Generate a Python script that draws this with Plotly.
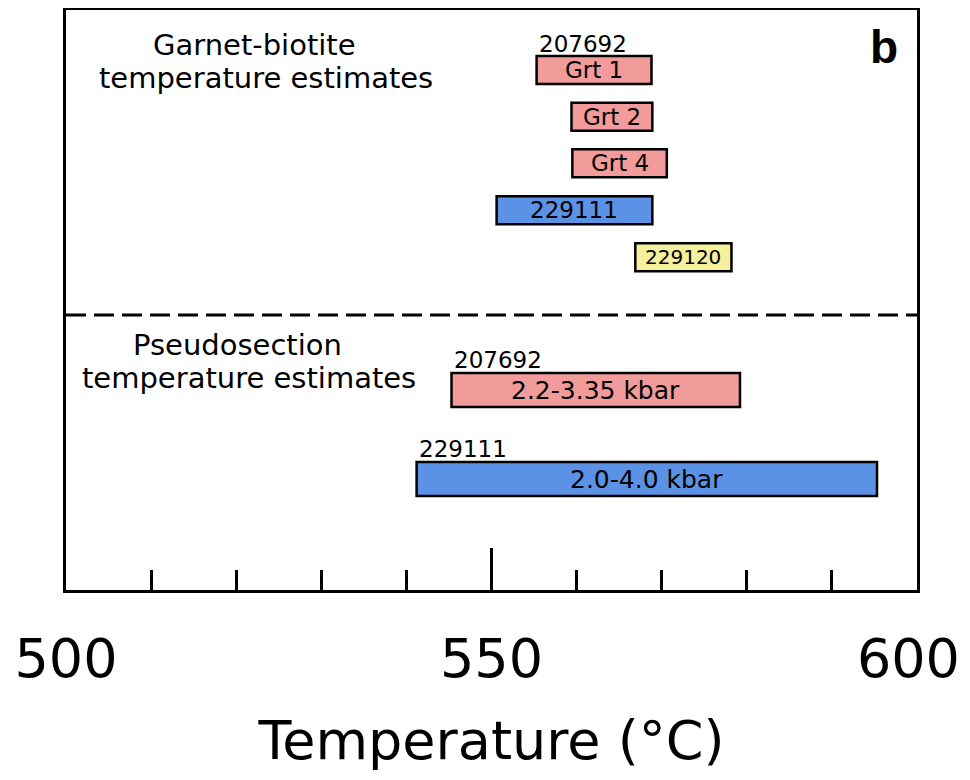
import plotly.graph_objects as go

# ---- data ----
gb_labels = ["Grt 1", "Grt 2", "Grt 4", "229111", "229120"]
gb_samples = ["207692", "207692", "207692", "229111", "229120"]
gb_tmin = [555.3, 559.4, 559.5, 550.6, 566.9]
gb_tmax = [568.8, 568.9, 570.6, 568.9, 578.2]

ps_labels = ["2.2-3.35 kbar", "2.0-4.0 kbar"]
ps_samples = ["207692", "229111"]
ps_tmin = [545.3, 541.2]
ps_tmax = [579.2, 595.3]

tick_vals = [500, 550, 600]
tick_text = ["500", "550", "600\u00a0"]

# ---- styles / layout ----
sample_colors = {"207692": "#F29B9B", "229111": "#5B92E5", "229120": "#F5F09B"}
FONT = "DejaVu Sans, Verdana, sans-serif"

gb_rows = [60, 106.8, 153.3, 200.3, 247.2]   # vertical slots (plot units, top->down)
gb_width = 28
gb_text_sizes = [23, 23, 23, 23, 20]
ps_rows = [380, 469]
ps_width = 34
divider_y = 305

fig = go.Figure()

fig.add_trace(go.Bar(
    orientation="h",
    y=gb_rows,
    base=gb_tmin,
    x=[b - a for a, b in zip(gb_tmin, gb_tmax)],
    width=gb_width,
    marker=dict(color=[sample_colors[s] for s in gb_samples],
                line=dict(color="black", width=2.5)),
    hoverinfo="skip",
    showlegend=False,
))

fig.add_trace(go.Bar(
    orientation="h",
    y=ps_rows,
    base=ps_tmin,
    x=[b - a for a, b in zip(ps_tmin, ps_tmax)],
    width=ps_width,
    marker=dict(color=[sample_colors[s] for s in ps_samples],
                line=dict(color="black", width=2.5)),
    hoverinfo="skip",
    showlegend=False,
))

annotations = []
# labels inside bars
for lab, a, b, r, fs in zip(gb_labels, gb_tmin, gb_tmax, gb_rows, gb_text_sizes):
    annotations.append(dict(x=(a + b) / 2, y=r, xref="x", yref="y", text=lab, showarrow=False,
                            xanchor="center", yanchor="middle",
                            font=dict(family=FONT, size=fs, color="black")))
for lab, a, b, r in zip(ps_labels, ps_tmin, ps_tmax, ps_rows):
    annotations.append(dict(x=(a + b) / 2, y=r, xref="x", yref="y", text=lab, showarrow=False,
                            xanchor="center", yanchor="middle",
                            font=dict(family=FONT, size=25, color="black")))

# sample name above first garnet-biotite bar
annotations.append(dict(x=gb_tmin[0], y=gb_rows[0] - gb_width / 2, xref="x", yref="y",
                        text=gb_samples[0], showarrow=False, xanchor="left", yanchor="bottom",
                        yshift=-3, font=dict(family=FONT, size=23, color="black")))
for s, t0, r in zip(ps_samples, ps_tmin, ps_rows):
    annotations.append(dict(x=t0, y=r - ps_width / 2, xref="x", yref="y",
                            text=s, showarrow=False, xanchor="left", yanchor="bottom",
                            yshift=-2, font=dict(family=FONT, size=23, color="black")))

# section titles
for txt, xp, yp in [("Garnet-biotite", 254, 45), ("temperature estimates", 266, 78),
                    ("Pseudosection", 237, 345), ("temperature estimates", 249, 378)]:
    annotations.append(dict(x=(xp - 66) / 851, y=yp - 10, xref="paper", yref="y",
                            text=txt, showarrow=False, xanchor="center", yanchor="middle",
                            font=dict(family=FONT, size=29, color="black")))

annotations.append(dict(x=(884 - 66) / 851, y=37, xref="paper", yref="y", text="<b>b</b>",
                        showarrow=False, xanchor="center", yanchor="middle",
                        font=dict(family="Liberation Sans, Arial, sans-serif", size=46, color="black")))

fig.update_layout(
    width=954, height=764,
    margin=dict(l=58, r=45, t=2, b=182, autoexpand=False),
    paper_bgcolor="white", plot_bgcolor="white",
    barmode="overlay",
    annotations=annotations,
    shapes=[dict(type="line", xref="paper", yref="y", x0=0, x1=1, y0=divider_y, y1=divider_y,
                 line=dict(color="black", width=3, dash="20px,8px"))],
    font=dict(family=FONT, color="black"),
)

fig.update_xaxes(
    range=[500, 600],
    tickvals=tick_vals, ticktext=tick_text,
    ticks="inside", ticklen=42, tickwidth=3, tickcolor="black",
    minor=dict(dtick=10, ticks="inside", ticklen=20, tickwidth=2.5, tickcolor="black"),
    tickfont=dict(family=FONT, size=54, color="black"),
    ticklabelstandoff=19,
    ticklabeloverflow="allow",
    showline=True, mirror=True, linewidth=3, linecolor="black",
    showgrid=False, zeroline=False, automargin=False,
    title=dict(text="Temperature (°C)", font=dict(family=FONT, size=54, color="black"), standoff=38),
)
fig.update_yaxes(
    range=[580, 0],
    showticklabels=False, ticks="",
    showline=True, mirror=True, linewidth=3, linecolor="black",
    showgrid=False, zeroline=False,
)

fig.write_html("out.html")
